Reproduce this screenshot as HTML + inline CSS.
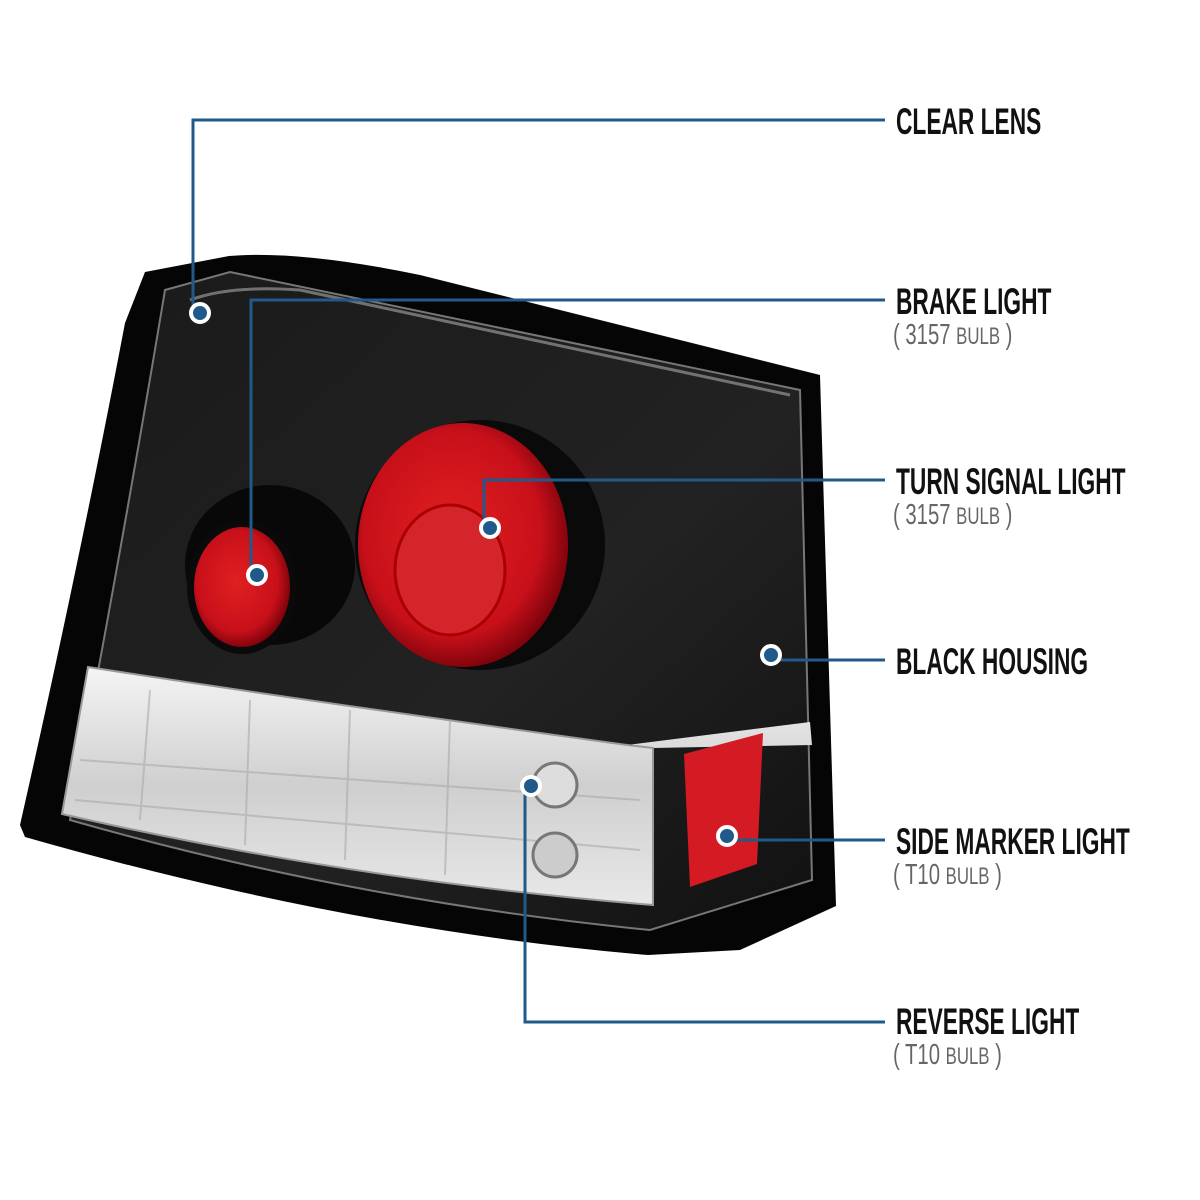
<!DOCTYPE html>
<html><head><style>
html,body{margin:0;padding:0;background:#fff;}
svg{display:block;}
.t{font-family:"Liberation Sans",sans-serif;font-size:37px;font-weight:bold;fill:#111;}
.s{font-family:"Liberation Sans",sans-serif;font-size:29px;fill:#666;}
</style></head><body>
<svg width="1200" height="1200" viewBox="0 0 1200 1200" xmlns="http://www.w3.org/2000/svg">
<defs>
<radialGradient id="red" cx="0.45" cy="0.45" r="0.6"><stop offset="0" stop-color="#e02020"/><stop offset="0.7" stop-color="#c8101a"/><stop offset="1" stop-color="#6a0008"/></radialGradient>
<linearGradient id="lens" x1="0" y1="0" x2="0" y2="1"><stop offset="0" stop-color="#f4f4f4"/><stop offset="0.5" stop-color="#cfcfcf"/><stop offset="1" stop-color="#e8e8e8"/></linearGradient>
<linearGradient id="body" x1="0" y1="0" x2="1" y2="1"><stop offset="0" stop-color="#1a1a1a"/><stop offset="0.6" stop-color="#222"/><stop offset="1" stop-color="#111"/></linearGradient>
</defs>
<path d="M145,272 L229,256 Q300,250 420,275 L820,375 L836,906 L740,950 L648,955 Q350,930 25,837 L20,825 Q80,560 125,323 Z" fill="#050505"/>
<path d="M165,290 L230,272 L800,390 L812,880 L650,930 Q350,900 70,820 Q120,560 165,290 Z" fill="url(#body)" stroke="#777" stroke-width="2"/>
<path d="M190,300 Q230,285 300,290 L790,395" stroke="#aaa" stroke-width="3" fill="none" opacity="0.6"/>
<ellipse cx="270" cy="565" rx="85" ry="80" fill="#080808"/>
<ellipse cx="242" cy="587" rx="55" ry="67" fill="#0a0a0a"/>
<ellipse cx="242" cy="587" rx="48" ry="60" fill="url(#red)"/>
<ellipse cx="480" cy="545" rx="125" ry="125" fill="#0a0a0a"/>
<ellipse cx="463" cy="545" rx="105" ry="122" fill="url(#red)"/>
<ellipse cx="450" cy="570" rx="55" ry="65" fill="#d4262a" stroke="#a00" stroke-width="3"/>
<path d="M88,667 Q300,700 627,745 L810,722 L812,745 L653,748 L653,905 Q350,880 62,814 Z" fill="url(#lens)"/>
<path d="M88,667 Q300,700 627,745 L653,748 L653,905 Q350,880 62,814 Z" fill="none" stroke="#999" stroke-width="2"/>
<g stroke="#aaa" stroke-width="2" opacity="0.6">
<line x1="150" y1="690" x2="140" y2="820"/><line x1="250" y1="700" x2="245" y2="845"/><line x1="350" y1="710" x2="345" y2="860"/><line x1="450" y1="720" x2="445" y2="875"/>
<line x1="80" y1="760" x2="640" y2="800"/><line x1="75" y1="800" x2="640" y2="850"/>
</g>
<circle cx="555" cy="785" r="22" fill="#ddd" stroke="#777" stroke-width="3"/>
<circle cx="555" cy="855" r="22" fill="#ccc" stroke="#777" stroke-width="3"/>
<path d="M684,754 L763,733 L757,864 L690,887 Z" fill="#d41a22"/>
<g stroke="#1f5a8a" stroke-width="3" fill="none">
<polyline points="193,312 193,120 885,120"/>
<polyline points="251,575 251,300 885,300"/>
<polyline points="484,528 484,480 885,480"/>
<polyline points="771,660 885,660"/>
<polyline points="726,840 885,840"/>
<polyline points="525,786 525,1022 885,1022"/>
</g>
<g fill="#1f5a8a" stroke="#fff" stroke-width="4">
<circle cx="200" cy="313" r="9"/><circle cx="257" cy="575" r="9"/><circle cx="490" cy="528" r="9"/>
<circle cx="771" cy="655" r="9"/><circle cx="727" cy="836" r="9"/><circle cx="531" cy="786" r="9"/>
</g>
<g transform="translate(896,0) scale(0.615,1)">
<text class="t" y="134">CLEAR LENS</text>
<text class="t" y="314">BRAKE LIGHT</text>
<text class="t" y="494">TURN SIGNAL LIGHT</text>
<text class="t" y="674">BLACK HOUSING</text>
<text class="t" y="854">SIDE MARKER LIGHT</text>
<text class="t" y="1034">REVERSE LIGHT</text>
</g>
<g transform="translate(893,0) scale(0.7,1)">
<text class="s" y="344">( 3157  <tspan font-size="24">BULB</tspan> )</text>
<text class="s" y="524">( 3157  <tspan font-size="24">BULB</tspan> )</text>
<text class="s" y="884">( T10  <tspan font-size="24">BULB</tspan> )</text>
<text class="s" y="1064">( T10  <tspan font-size="24">BULB</tspan> )</text>
</g>
</svg>
</body></html>
